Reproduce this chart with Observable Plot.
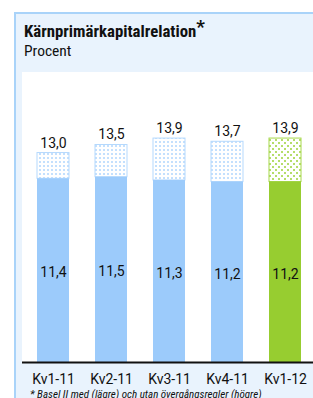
<!DOCTYPE html>
<html><head><meta charset="utf-8">
<script src="https://cdn.jsdelivr.net/npm/d3@7"></script>
<script src="https://cdn.jsdelivr.net/npm/@observablehq/plot@0.6"></script>
<style>
body{margin:0;background:#fff;width:313px;height:398px;overflow:hidden;position:relative;font-family:"Liberation Sans Narrow","Roboto Condensed","Roboto",sans-serif;color:#111}
#panel{position:absolute;left:14px;top:12px;width:320px;height:400px;background:#e9f3fd;border-top:2px solid #a9d3f9;border-left:2px solid #a9d3f9}
#title{position:absolute;left:24px;top:21px;font-weight:bold;font-size:16.8px;line-height:20px;white-space:nowrap}
#title sup{font-size:19px;line-height:0;position:relative;top:3px}
#sub{position:absolute;left:24px;top:41px;font-size:15.5px;line-height:20px}
#white{position:absolute;left:22px;top:72px;width:300px;height:290px;background:#fff}
#chart{position:absolute;left:22px;top:72px}
#foot{position:absolute;left:30px;top:389px;font-size:11px;font-style:italic;white-space:nowrap;line-height:12px}
</style></head>
<body>
<div id="panel"></div>
<div id="title">Kärnprimärkapitalrelation<sup>*</sup></div>
<div id="sub">Procent</div>
<div id="white"></div>
<div id="chart"></div>
<div id="foot">* Basel II med (lägre) och utan övergångsregler (högre)</div>
<script>
const categories = ["Kv1-11","Kv2-11","Kv3-11","Kv4-11","Kv1-12"];
const lowerValues = [11.4,11.5,11.3,11.2,11.2];
const upperValues = [13.0,13.5,13.9,13.7,13.9];
const highlight = "Kv1-12";

const data = categories.map((c,i)=>({cat:c, lower:lowerValues[i], total:upperValues[i]}));
const fmt = v => v.toFixed(1).replace(".", ",");
const isHi = d => d.cat === highlight;

const chart = Plot.plot({
  width: 291, height: 326,
  marginTop: 0, marginBottom: 36, marginLeft: 0, marginRight: 0,
  style: {background: "transparent", fontFamily: "'Liberation Sans Narrow','Roboto',sans-serif", fontSize: "14px", color: "#111"},
  x: {domain: categories, paddingInner: 0.44, paddingOuter: 0.1525, insetLeft: 4, label: null},
  y: {domain: [0, 18], axis: null},
  marks: [
    Plot.barY(data, {x: "cat", y1: "lower", y2: "total", fill: d => isHi(d) ? "url(#dotsGreen)" : "url(#dotsBlue)", stroke: d => isHi(d) ? "#a6d84a" : "#b5d9fd", strokeWidth: 1}),
    Plot.barY(data, {x: "cat", y1: 0, y2: "lower", fill: d => isHi(d) ? "#97cd30" : "#9ccbfb"}),
    Plot.ruleY([0], {stroke: "#111", strokeWidth: 2}),
    Plot.axisX({tickSize: 0, tickPadding: 12, fontSize: 14, fill: "#111"}),
    Plot.text(data, {x: "cat", y: "total", text: d => fmt(d.total), dy: -10, fontSize: 14, fill: "#111"}),
    Plot.text(data, {x: "cat", y: d => d.lower / 2, text: d => fmt(d.lower), dy: 2, fontSize: 14, fill: "#111"})
  ]
});
const ns = "http://www.w3.org/2000/svg";
const defs = document.createElementNS(ns, "defs");
defs.innerHTML = `
<pattern id="dotsBlue" patternUnits="userSpaceOnUse" width="4" height="4">
  <rect width="4" height="4" fill="#ffffff"/>
  <rect x="1" y="1" width="2" height="2" fill="#c4e0fd"/>
</pattern>
<pattern id="dotsGreen" patternUnits="userSpaceOnUse" width="6" height="6">
  <rect width="6" height="6" fill="#ffffff"/>
  <rect x="1" y="1" width="2" height="2" fill="#b5dd6a"/>
  <rect x="4" y="4" width="2" height="2" fill="#b5dd6a"/>
</pattern>`;
chart.insertBefore(defs, chart.firstChild);
document.getElementById("chart").appendChild(chart);
</script>
</body></html>
